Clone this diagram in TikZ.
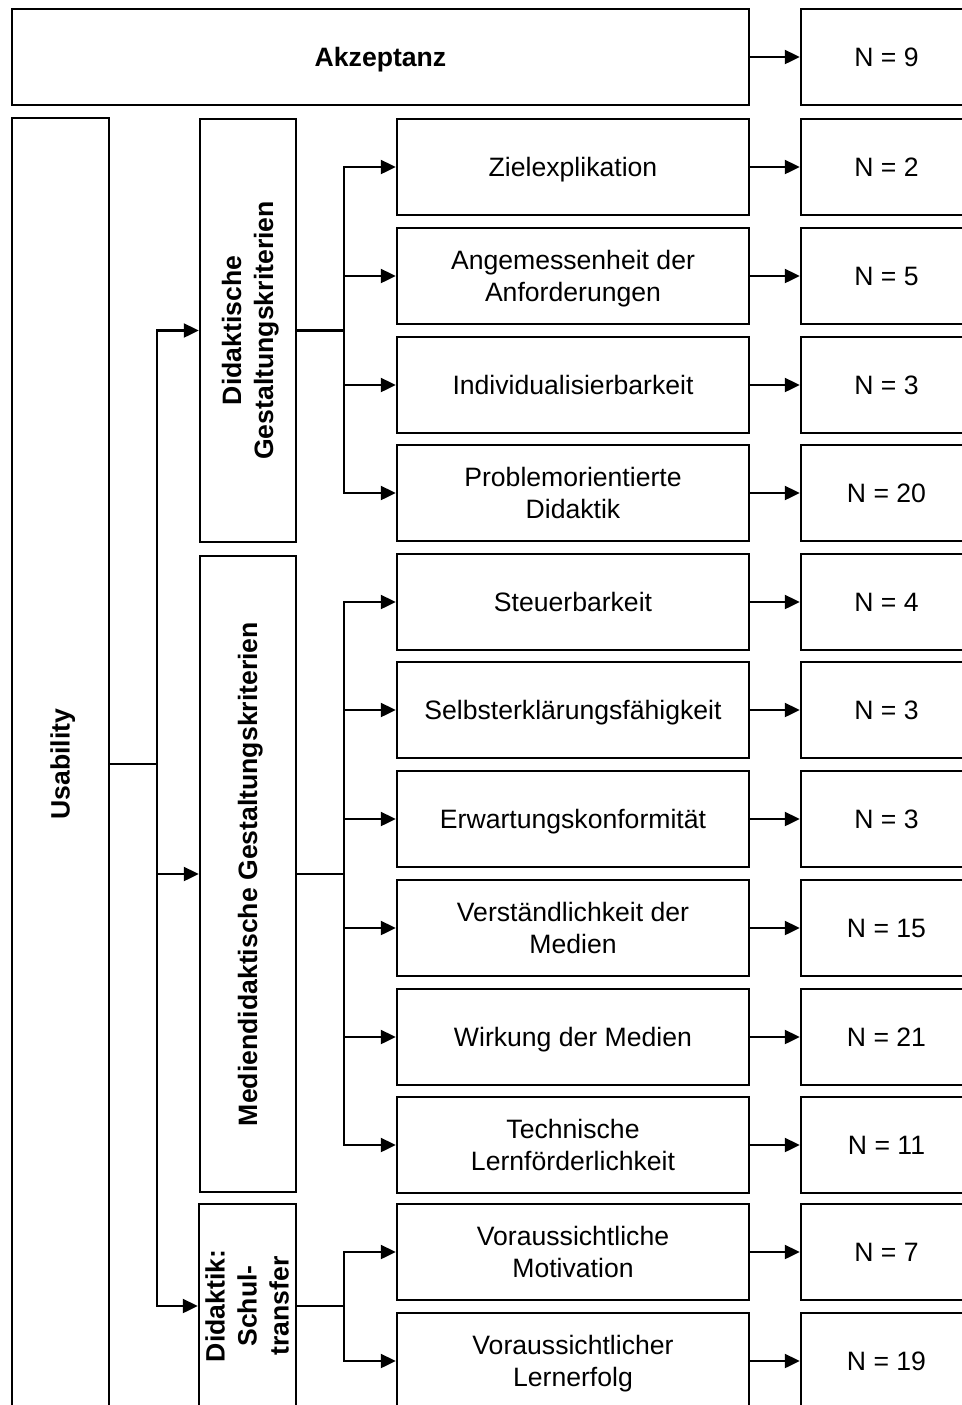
\documentclass[tikz,border=0pt]{standalone}
\usepackage{fontspec}
\setmainfont{Liberation Sans}
\usetikzlibrary{arrows.meta}
\tikzset{
    % Box styles with sharp corners
    component/.style={
        rectangle,
        draw=black,
        fill=white,
        line width=1.2pt,
        minimum width=176pt,
        minimum height=48pt,
        align=center,
        font=\fontsize{13.3pt}{16pt}\selectfont,
        text height=12pt,
        text depth=2.8pt
    },
    two lines/.style={
        text height=28pt
    },
    three lines/.style={
        text height=44pt
    },
    component count/.style={
        component,
        minimum width=85.5pt
    },
    component head/.style={
        component,
        rotate=90,
        font=\fontsize{13.3pt}{16pt}\selectfont\bfseries
    },
    arrow style/.style={
        -{Triangle[length=7.5pt, width=7pt]},
        line width=1.1pt,
        black
    }
}
\begin{document}
\begin{tikzpicture}[x=0.5pt, y=0.5pt]
        \useasboundingbox (0,0) rectangle (962,-1405);
        \clip (0,0) rectangle (962,-1405);

        % Akzeptanz
        \node[component, minimum width=368.5pt, font=\fontsize{13.3pt}{16pt}\selectfont\bfseries] (akzeptanz) at (380.5,-57) {Akzeptanz};
        \node[component count] (nakzeptanz) at (886.5,-57) {N = 9};

        % Usability and its three groups
        \node[component head, minimum width=646pt, minimum height=48.5pt] (usability) at (60.5,-764) {Usability};
        \node[component head, two lines, minimum width=211.5pt] (didaktik) at (248,-330.5) {Didaktische\\Gestaltungskriterien};
        \node[component head, minimum width=318pt] (medien) at (248,-874) {Mediendidaktische Gestaltungskriterien};
        \node[component head, three lines, minimum width=102pt, minimum height=48.5pt, inner sep=0.5pt] (schule) at (247.5,-1306) {Didaktik:\\Schul-\\transfer};

        % Didaktische Kriterien
        \node[component] (ziel) at (573,-167) {Zielexplikation};
        \node[component, two lines] (anforderung) at (573,-276) {Angemessenheit der\\Anforderungen};
        \node[component] (individuell) at (573,-385) {Individualisierbarkeit};
        \node[component, two lines] (problem) at (573,-493) {Problemorientierte\\Didaktik};

        % Mediendidaktische Kriterien
        \node[component] (steuer) at (573,-602) {Steuerbarkeit};
        \node[component] (selbst) at (573,-710) {Selbsterklärungsfähigkeit};
        \node[component] (erwartung) at (573,-819) {Erwartungskonformität};
        \node[component, two lines] (verstaendlich) at (573,-928) {Verständlichkeit der\\Medien};
        \node[component] (wirkung) at (573,-1037) {Wirkung der Medien};
        \node[component, two lines] (technik) at (573,-1145) {Technische\\Lernförderlichkeit};

        % Schultransfer
        \node[component, two lines] (motivation) at (573,-1252) {Voraussichtliche\\Motivation};
        \node[component, two lines] (lernerfolg) at (573,-1361) {Voraussichtlicher\\Lernerfolg};

        % Counts
        \node[component count] (nziel) at (886.5,-167) {N = 2};
        \node[component count] (nanforderung) at (886.5,-276) {N = 5};
        \node[component count] (nindividuell) at (886.5,-385) {N = 3};
        \node[component count] (nproblem) at (886.5,-493) {N = 20};
        \node[component count] (nsteuer) at (886.5,-602) {N = 4};
        \node[component count] (nselbst) at (886.5,-710) {N = 3};
        \node[component count] (nerwartung) at (886.5,-819) {N = 3};
        \node[component count] (nverstaendlich) at (886.5,-928) {N = 15};
        \node[component count] (nwirkung) at (886.5,-1037) {N = 21};
        \node[component count] (ntechnik) at (886.5,-1145) {N = 11};
        \node[component count] (nmotivation) at (886.5,-1252) {N = 7};
        \node[component count] (nlernerfolg) at (886.5,-1361) {N = 19};

        % Branch points
        \coordinate (ju) at (157,-764);
        \coordinate (jd) at (344,-330.5);
        \coordinate (jm) at (344,-874);
        \coordinate (js) at (344,-1306);

        % Tree connectors
        \draw[arrow style] (usability.south) -- (ju) |- (didaktik.north);
        \draw[arrow style] (usability.south) -- (ju) |- (medien.north);
        \draw[arrow style] (usability.south) -- (ju) |- (schule.north);

        \draw[arrow style] (didaktik.south) -- (jd) |- (ziel.west);
        \draw[arrow style] (didaktik.south) -- (jd) |- (anforderung.west);
        \draw[arrow style] (didaktik.south) -- (jd) |- (individuell.west);
        \draw[arrow style] (didaktik.south) -- (jd) |- (problem.west);

        \draw[arrow style] (medien.south) -- (jm) |- (steuer.west);
        \draw[arrow style] (medien.south) -- (jm) |- (selbst.west);
        \draw[arrow style] (medien.south) -- (jm) |- (erwartung.west);
        \draw[arrow style] (medien.south) -- (jm) |- (verstaendlich.west);
        \draw[arrow style] (medien.south) -- (jm) |- (wirkung.west);
        \draw[arrow style] (medien.south) -- (jm) |- (technik.west);

        \draw[arrow style] (schule.south) -- (js) |- (motivation.west);
        \draw[arrow style] (schule.south) -- (js) |- (lernerfolg.west);

        % Count connectors
        \draw[arrow style] (akzeptanz.east) -- (nakzeptanz.west);
        \draw[arrow style] (ziel.east) -- (nziel.west);
        \draw[arrow style] (anforderung.east) -- (nanforderung.west);
        \draw[arrow style] (individuell.east) -- (nindividuell.west);
        \draw[arrow style] (problem.east) -- (nproblem.west);
        \draw[arrow style] (steuer.east) -- (nsteuer.west);
        \draw[arrow style] (selbst.east) -- (nselbst.west);
        \draw[arrow style] (erwartung.east) -- (nerwartung.west);
        \draw[arrow style] (verstaendlich.east) -- (nverstaendlich.west);
        \draw[arrow style] (wirkung.east) -- (nwirkung.west);
        \draw[arrow style] (technik.east) -- (ntechnik.west);
        \draw[arrow style] (motivation.east) -- (nmotivation.west);
        \draw[arrow style] (lernerfolg.east) -- (nlernerfolg.west);
\end{tikzpicture}
\end{document}
